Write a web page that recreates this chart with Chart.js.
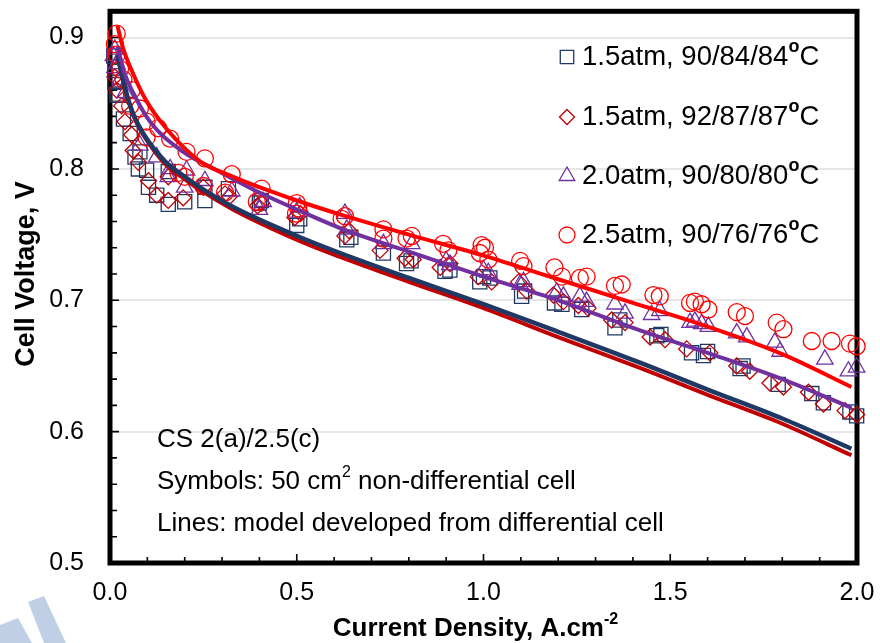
<!DOCTYPE html>
<html><head><meta charset="utf-8">
<script src="https://cdn.jsdelivr.net/npm/chart.js@4.4.1/dist/chart.umd.min.js"></script>
<style>html,body{margin:0;padding:0;background:#fff;}canvas{display:block;}</style>
</head><body>
<canvas id="c" width="880" height="643"></canvas>
<script>
// ---------- data ----------
const xTicks = [0, 0.5, 1.0, 1.5, 2.0];
const yTicks = [0.5, 0.6, 0.7, 0.8, 0.9];
const seriesLabels = [
  ['1.5atm, 90/84/84', 'o', 'C'],
  ['1.5atm, 92/87/87', 'o', 'C'],
  ['2.0atm, 90/80/80', 'o', 'C'],
  ['2.5atm, 90/76/76', 'o', 'C']
];
// symbols: 50 cm2 non-differential cell  [current density, voltage]
const sq15_90 = [[0.010,0.886],[0.013,0.875],[0.013,0.866],[0.018,0.857],[0.022,0.856],[0.036,0.838],[0.054,0.827],[0.067,0.809],[0.076,0.800],[0.080,0.813],[0.098,0.799],[0.103,0.786],[0.125,0.780],[0.156,0.773],[0.156,0.798],[0.200,0.775],[0.254,0.776],[0.254,0.786],[0.317,0.785],[0.400,0.774],[0.405,0.776],[0.500,0.757],[0.508,0.762],[0.634,0.746],[0.645,0.748],[0.732,0.736],[0.794,0.728],[0.806,0.730],[0.897,0.722],[0.910,0.723],[0.990,0.714],[1.000,0.718],[1.017,0.717],[1.102,0.703],[1.110,0.707],[1.190,0.698],[1.210,0.697],[1.263,0.693],[1.352,0.679],[1.365,0.685],[1.464,0.673],[1.475,0.674],[1.557,0.660],[1.589,0.658],[1.600,0.661],[1.687,0.648],[1.695,0.650],[1.789,0.636],[1.879,0.629],[1.910,0.622],[1.981,0.615],[1.999,0.612]];
const dm15_92 = [[0.013,0.870],[0.018,0.860],[0.031,0.848],[0.040,0.836],[0.058,0.826],[0.062,0.814],[0.076,0.805],[0.103,0.791],[0.125,0.780],[0.156,0.776],[0.156,0.794],[0.196,0.778],[0.250,0.786],[0.308,0.781],[0.320,0.779],[0.395,0.772],[0.406,0.774],[0.495,0.763],[0.510,0.766],[0.629,0.749],[0.640,0.753],[0.723,0.738],[0.790,0.732],[0.812,0.731],[0.884,0.725],[0.910,0.728],[0.986,0.718],[1.022,0.714],[1.094,0.714],[1.116,0.707],[1.187,0.704],[1.214,0.699],[1.254,0.696],[1.280,0.694],[1.343,0.685],[1.379,0.683],[1.446,0.672],[1.486,0.670],[1.544,0.663],[1.606,0.660],[1.678,0.650],[1.713,0.646],[1.767,0.637],[1.803,0.634],[1.870,0.630],[1.910,0.621],[1.968,0.616],[1.999,0.613]];
const tr20_90 = [[0.009,0.886],[0.013,0.891],[0.013,0.877],[0.018,0.880],[0.027,0.868],[0.040,0.858],[0.080,0.818],[0.125,0.809],[0.156,0.794],[0.161,0.800],[0.200,0.786],[0.205,0.799],[0.254,0.791],[0.326,0.783],[0.400,0.769],[0.410,0.775],[0.500,0.767],[0.508,0.771],[0.629,0.766],[0.634,0.754],[0.732,0.743],[0.808,0.743],[0.900,0.730],[0.910,0.727],[1.000,0.723],[1.013,0.721],[1.098,0.712],[1.107,0.714],[1.196,0.706],[1.214,0.703],[1.258,0.703],[1.276,0.699],[1.352,0.697],[1.379,0.690],[1.450,0.689],[1.472,0.692],[1.553,0.683],[1.566,0.684],[1.584,0.682],[1.602,0.680],[1.678,0.675],[1.705,0.672],[1.780,0.668],[1.794,0.661],[1.914,0.655],[1.977,0.646],[1.999,0.649]];
const ci25_90 = [[0.013,0.895],[0.018,0.903],[0.018,0.887],[0.027,0.876],[0.036,0.868],[0.054,0.848],[0.058,0.860],[0.080,0.846],[0.098,0.836],[0.098,0.824],[0.129,0.831],[0.161,0.823],[0.183,0.797],[0.200,0.794],[0.205,0.813],[0.250,0.787],[0.254,0.808],[0.308,0.782],[0.326,0.796],[0.393,0.775],[0.406,0.785],[0.498,0.766],[0.500,0.774],[0.504,0.770],[0.620,0.762],[0.629,0.764],[0.732,0.754],[0.732,0.747],[0.794,0.747],[0.808,0.749],[0.892,0.743],[0.906,0.738],[0.990,0.736],[0.995,0.742],[1.004,0.740],[1.013,0.731],[1.098,0.730],[1.107,0.726],[1.190,0.725],[1.210,0.718],[1.258,0.717],[1.276,0.718],[1.352,0.711],[1.370,0.712],[1.455,0.704],[1.472,0.703],[1.553,0.698],[1.566,0.699],[1.584,0.697],[1.602,0.693],[1.678,0.691],[1.700,0.688],[1.785,0.683],[1.803,0.678],[1.879,0.669],[1.932,0.669],[1.981,0.667],[1.999,0.665]];
// lines: model developed from differential cell
const model15_90 = [[0.02,0.887],[0.04,0.862],[0.062,0.842],[0.089,0.827],[0.15,0.805],[0.196,0.795],[0.241,0.786],[0.33,0.771],[0.509,0.748],[0.616,0.736],[0.8,0.717],[1.0,0.697],[1.2,0.676],[1.419,0.6525],[1.6,0.632],[1.8,0.610],[1.985,0.587]];
const model15_92 = [[0.02,0.886],[0.04,0.861],[0.062,0.841],[0.089,0.826],[0.15,0.803],[0.196,0.793],[0.241,0.784],[0.33,0.769],[0.509,0.745],[0.616,0.733],[0.8,0.714],[1.0,0.694],[1.2,0.672],[1.419,0.6485],[1.6,0.628],[1.8,0.606],[1.985,0.582]];
const model20_90 = [[0.02,0.893],[0.04,0.872],[0.062,0.858],[0.107,0.836],[0.196,0.813],[0.286,0.799],[0.4,0.782],[0.509,0.768],[0.616,0.755],[0.8,0.737],[1.0,0.718],[1.2,0.700],[1.4,0.679],[1.6,0.660],[1.8,0.640],[1.986,0.618]];
const model25_90 = [[0.02,0.909],[0.035,0.892],[0.055,0.877],[0.095,0.853],[0.15,0.831],[0.24,0.806],[0.33,0.794],[0.42,0.784],[0.51,0.775],[0.62,0.765],[0.8,0.750],[1.0,0.734],[1.2,0.716],[1.4,0.698],[1.6,0.680],[1.8,0.659],[1.985,0.634]];
const noteLines = [
  [['CS 2(a)/2.5(c)', false]],
  [['Symbols: 50 cm', false], ['2', true], [' non-differential cell', false]],
  [['Lines: model developed from differential cell', false]]
];
const xTitle = [['Current Density, A.cm', false], ['-2', true]];
const yTitle = [['Cell Voltage, V', false]];

// ---------- rendering ----------
const FONT = '"Liberation Sans", Arial, Helvetica, sans-serif';
const xy = a => a.map(p => ({x: p[0], y: p[1]}));
const NAVY = '#203864', DRED = '#C00000', PURP = '#7030A0', RED = '#FF0000';

function rich(ctx, parts, x, y, size, bold, align, supBold, supScale) {
  const sc = supScale || 0.62;
  const fontOf = s => ((bold || (s && supBold)) ? 'bold ' : '') + (s ? Math.round(size * sc) : size) + 'px ' + FONT;
  const ws = [];
  let total = 0;
  for (const [t, s] of parts) {
    ctx.font = fontOf(s);
    const w = ctx.measureText(t).width; ws.push(w); total += w;
  }
  let cx = align === 'center' ? x - total / 2 : x;
  ctx.textAlign = 'left'; ctx.textBaseline = 'middle';
  parts.forEach(([t, s], i) => {
    ctx.font = fontOf(s);
    ctx.fillText(t, cx, s ? y - size * 0.36 : y);
    cx += ws[i];
  });
}

function marker(ctx, style, r, x, y, color) {
  ctx.save();
  ctx.strokeStyle = color; ctx.lineWidth = 1.3;
  if (Chart.helpers && Chart.helpers.drawPoint) {
    ctx.fillStyle = 'rgba(0,0,0,0)';
    Chart.helpers.drawPoint(ctx, {pointStyle: style, radius: r, rotation: 0, borderWidth: 1.3}, x, y);
  }
  ctx.restore();
}

const decor = {
  id: 'decor',
  beforeDraw(chart) {
    const ctx = chart.ctx;
    ctx.save();
    ctx.fillStyle = '#fff'; ctx.fillRect(0, 0, chart.width, chart.height);
    ctx.fillStyle = '#BFD0E6';
    ctx.beginPath(); ctx.moveTo(0, 625); ctx.lineTo(18, 618); ctx.lineTo(32, 643); ctx.lineTo(0, 643); ctx.closePath(); ctx.fill();
    ctx.beginPath(); ctx.moveTo(28, 602); ctx.lineTo(44, 596); ctx.lineTo(66, 643); ctx.lineTo(44, 643); ctx.closePath(); ctx.fill();
    ctx.restore();
  },
  beforeDatasetsDraw(chart) {
    const ctx = chart.ctx, a = chart.chartArea;
    ctx.save();
    ctx.strokeStyle = '#000'; ctx.lineWidth = 5;
    ctx.strokeRect(a.left, a.top, a.right - a.left, a.bottom - a.top);
    const xs = chart.scales.x, ys = chart.scales.y;
    ctx.lineWidth = 1.6;
    ctx.beginPath();
    for (let i = 1; i < 20; i++) {
      const px = xs.getPixelForValue(i / 10), len = (i % 5 === 0) ? 9 : 6;
      ctx.moveTo(px, a.bottom); ctx.lineTo(px, a.bottom - len);
    }
    for (let i = 1; i <= 20; i++) {
      const v = 0.5 + i * 0.02; if (v > 0.915) break;
      const py = ys.getPixelForValue(v), len = (i % 5 === 0) ? 9 : 7;
      ctx.moveTo(a.left, py); ctx.lineTo(a.left + len, py);
    }
    ctx.stroke();
    ctx.restore();
  },
  afterDraw(chart) {
    const ctx = chart.ctx, a = chart.chartArea;
    ctx.save();
    ctx.fillStyle = '#000';
    const noteY = [440, 482, 524];
    noteLines.forEach((parts, i) => rich(ctx, parts, 157, noteY[i], 26, false, 'left'));
    const styles = [['rect', 9.5, NAVY], ['rectRot', 7.5, DRED], ['triangle', 9, PURP], ['circle', 8, RED]];
    const legY = [57, 117, 176, 235];
    seriesLabels.forEach((lab, i) => {
      marker(ctx, styles[i][0], styles[i][1], 567, legY[i], styles[i][2]);
      ctx.fillStyle = '#000';
      rich(ctx, [[lab[0], false], [lab[1], true], [lab[2], false]], 582, legY[i], 27.5, false, 'left', true, 0.66);
    });
    rich(ctx, xTitle, (a.left + a.right) / 2 - 8, 629, 26, true, 'center');
    ctx.save();
    ctx.translate(27, 274);
    ctx.rotate(-Math.PI / 2);
    rich(ctx, yTitle, 0, 0, 27, true, 'center');
    ctx.restore();
    ctx.restore();
  }
};

const ptSet = (label, data, style, r, color) => ({
  type: 'scatter', label, data: xy(data), pointStyle: style, pointRadius: r, pointHoverRadius: r,
  borderColor: color, backgroundColor: 'rgba(0,0,0,0)', pointBorderWidth: 1.3, borderWidth: 1.3,
  showLine: false, clip: false
});
const lineSet = (label, data, color, w) => ({
  type: 'line', label, data: xy(data), borderColor: color, borderWidth: w, pointRadius: 0,
  fill: false, showLine: true, cubicInterpolationMode: 'monotone', clip: false
});

new Chart(document.getElementById('c'), {
  type: 'scatter',
  data: {
    datasets: [
      lineSet('model 2.5atm', model25_90, RED, 4),
      lineSet('model 2.0atm', model20_90, PURP, 4),
      lineSet('model 1.5atm 90/84/84', model15_90, NAVY, 4.5),
      lineSet('model 1.5atm 92/87/87', model15_92, DRED, 4),
      ptSet(seriesLabels[3].join(''), ci25_90, 'circle', 8.5, RED),
      ptSet(seriesLabels[2].join(''), tr20_90, 'triangle', 9.5, PURP),
      ptSet(seriesLabels[1].join(''), dm15_92, 'rectRot', 8, DRED),
      ptSet(seriesLabels[0].join(''), sq15_90, 'rect', 10, NAVY)
    ]
  },
  options: {
    responsive: false, animation: false, devicePixelRatio: 1,
    layout: {padding: {left: 0, right: 23, top: 10, bottom: 0}},
    plugins: {legend: {display: false}, tooltip: {enabled: false}},
    scales: {
      x: {
        type: 'linear', min: 0, max: 2,
        afterBuildTicks: s => { s.ticks = xTicks.map(v => ({value: v})); },
        afterFit: s => { s.height = 80; s.paddingLeft = 0; s.paddingRight = 0; },
        grid: {display: false, drawTicks: false}, border: {display: false},
        ticks: {color: '#000', font: {family: FONT, size: 25}, padding: 15, maxRotation: 0,
                callback: v => Number(v).toFixed(1)}
      },
      y: {
        type: 'linear', min: 0.5, max: 0.92,
        afterBuildTicks: s => { s.ticks = yTicks.map(v => ({value: v})); },
        afterFit: s => { s.width = 110; s.paddingTop = 0; s.paddingBottom = 0; },
        grid: {color: c => (c.tick && Math.abs(c.tick.value - 0.5) < 1e-6) ? 'rgba(0,0,0,0)' : '#E6E6E6',
               lineWidth: 2, drawTicks: false},
        border: {display: false},
        ticks: {color: '#000', font: {family: FONT, size: 25}, padding: 26,
                callback: v => Number(v).toFixed(1)}
      }
    }
  },
  plugins: [decor]
});
</script>
</body></html>
